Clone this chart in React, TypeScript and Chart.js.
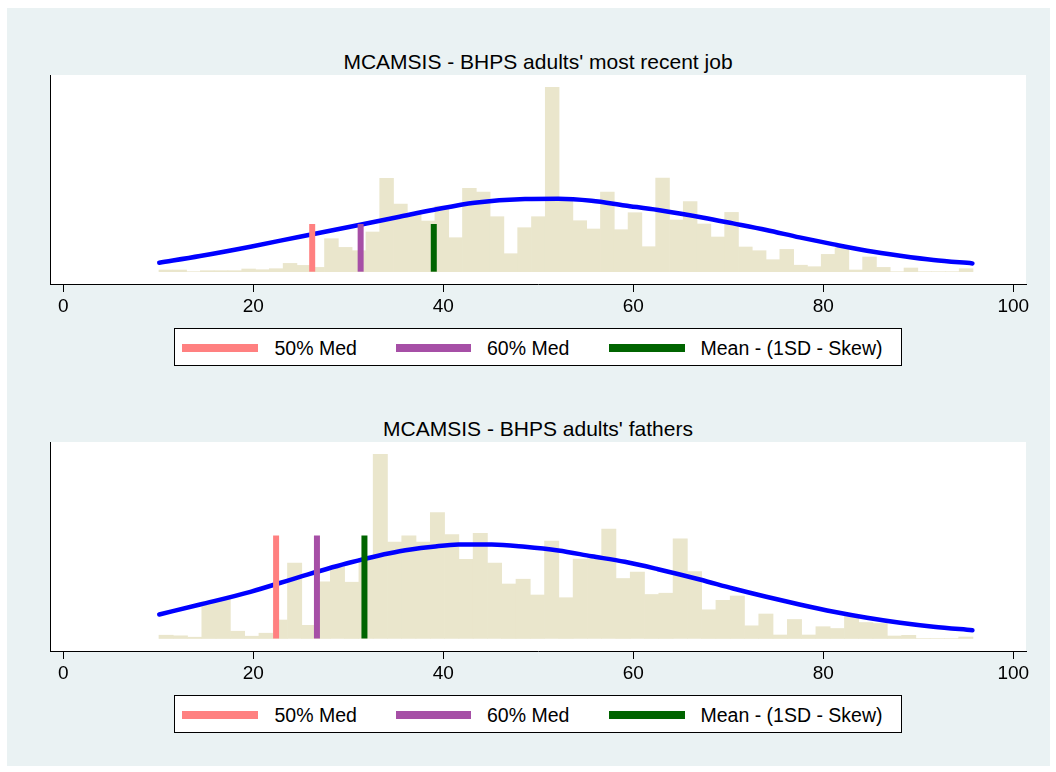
import React, { useEffect, useRef } from "react";
import { Chart, registerables } from "chart.js";

Chart.register(...registerables);

const FONT = "'Liberation Sans', Arial, Helvetica, sans-serif";
const BEIGE = "#EAE6CC";
const BG = "#EAF2F3";

// x axis
const xTicks = [0, 20, 40, 60, 80, 100];
const xMin = -1.4;
const xMax = 101.34;

// legend
const legendLabels = ["50% Med", "60% Med", "Mean - (1SD - Skew)"];
const markerColors = ["#FF8080", "#A64FA6", "#006400"];

// ---- Panel 1: adults' most recent job ----
const title1 = "MCAMSIS - BHPS adults' most recent job";
const hist1Start = 10.07;
const hist1Width = 1.4524;
const hist1Heights = [
  1.7, 1.7, 0, 1, 1, 1, 2.7, 2, 3, 8.3,
  6.3, 4.3, 33, 24.3, 21, 39.7, 93.3, 67.7, 58, 50.7,
  65.7, 34, 83.3, 79.5, 55, 18, 44, 55, 184.3, 72,
  51, 42.7, 79.7, 42, 59, 25, 93.7, 51.7, 70, 47.7,
  34.7, 59.3, 24.7, 21, 12, 22.3, 6.5, 5, 17.3, 24,
  1.7, 14.7, 4.3, 0, 3.7, 0, 0, 0, 3,
];
const curve1X = [10.1, 14.4, 19.7, 24.9, 30.2, 35.4, 38.9, 43.3, 48.6, 52.1, 55.6, 59.1, 62.6, 67.4, 70.5, 74.0, 77.5, 81.1, 84.6, 88.1, 91.6, 95.7];
const curve1Y = [9, 15.7, 25, 35, 45, 55, 61.7, 69, 72.7, 73, 71, 66.3, 61.7, 54, 48.3, 41.7, 34.3, 27.3, 21, 16, 11.7, 8.3];
const markers1X = [26.2, 31.3, 39.0];
const markers1H = 47.7;
const y1Min = -12.3;
const y1Max = 196.7;

// ---- Panel 2: adults' fathers ----
const title2 = "MCAMSIS - BHPS adults' fathers";
const hist2Start = 10.07;
const hist2Width = 1.5033;
const hist2Heights = [
  3.3, 2.7, 1.3, 37, 39.3, 7.3, 2.3, 5.3, 18.5, 75.3,
  13.2, 56.7, 72, 56.3, 80, 184.2, 96.5, 102.7, 96.5, 125.8,
  104, 79.2, 105.2, 75.3, 54.5, 59.3, 43.5, 97.3, 40.8, 79.5,
  80, 109.3, 60, 66.3, 44, 45.3, 99.7, 67, 28.7, 38.2,
  42.5, 12.7, 24.5, 3.5, 19, 3.5, 11.8, 10, 22, 16,
  15, 2.5, 3.2, 0, 0, 0, 1.5,
];
const curve2X = [10.1, 14.4, 19.7, 24.9, 30.2, 35.4, 38.9, 41.6, 45.1, 48.6, 52.1, 55.6, 59.1, 62.6, 67.0, 70.5, 74.0, 77.5, 81.1, 84.6, 88.1, 91.6, 95.7];
const curve2Y = [24, 34, 46.7, 61.7, 76, 87.3, 91.7, 94, 94, 91.7, 88, 82.3, 76.7, 69.3, 59, 50, 41.7, 34, 26.7, 20.7, 15.7, 11.7, 8.3];
const markers2X = [22.4, 26.7, 31.7];
const markers2H = 103;
const y2Min = -12.5;
const y2Max = 196.5;

type PanelProps = {
  offset: number;
  title: string;
  histStart: number;
  histWidth: number;
  hist: number[];
  curveX: number[];
  curveY: number[];
  markers: number[];
  markerH: number;
  yMin: number;
  yMax: number;
};

const plotBg = {
  id: "plotBg",
  beforeDraw(c: any) {
    const { ctx, chartArea: a } = c;
    ctx.save();
    ctx.fillStyle = "#ffffff";
    ctx.fillRect(a.left, a.top, a.right - a.left, a.bottom - a.top);
    ctx.restore();
  },
};

function Panel(p: PanelProps) {
  const ref = useRef<HTMLCanvasElement | null>(null);

  useEffect(() => {
    if (!ref.current) return;
    const datasets: any[] = [];
    p.markers.forEach((m, i) => {
      datasets.push({
        type: "line",
        label: legendLabels[i],
        data: [
          { x: m, y: 0 },
          { x: m, y: p.markerH },
        ],
        borderColor: markerColors[i],
        borderWidth: 6,
        borderCapStyle: "butt",
        pointRadius: 0,
        tension: 0,
        order: 0,
      });
    });
    datasets.push({
      type: "line",
      label: "Normal",
      data: p.curveX.map((x, i) => ({ x, y: p.curveY[i] })),
      borderColor: "#0000FF",
      borderWidth: 4.5,
      borderCapStyle: "round",
      borderJoinStyle: "round",
      pointRadius: 0,
      cubicInterpolationMode: "monotone",
      order: 1,
    });
    datasets.push({
      type: "bar",
      label: "Histogram",
      data: p.hist.map((h, k) => ({ x: p.histStart + (k + 0.5) * p.histWidth, y: h })),
      backgroundColor: BEIGE,
      borderWidth: 0,
      barPercentage: 1,
      categoryPercentage: 1,
      order: 2,
    });

    const chart = new Chart(ref.current, {
      type: "bar",
      data: { datasets },
      options: {
        animation: false,
        responsive: false,
        events: [],
        layout: { padding: { left: 50, right: 30, top: 75, bottom: 0 } },
        plugins: {
          legend: { display: false },
          title: { display: false },
          tooltip: { enabled: false },
        },
        scales: {
          x: {
            type: "linear",
            min: xMin,
            max: xMax,
            offset: false,
            grid: {
              display: true,
              offset: false,
              drawOnChartArea: false,
              drawTicks: true,
              tickLength: 8,
              color: "#000",
              lineWidth: 1,
            },
            border: { display: true, color: "#000", width: 1 },
            ticks: {
              font: { family: FONT, size: 19 },
              color: "#000",
              padding: 3,
              maxRotation: 0,
              autoSkip: false,
            },
            afterBuildTicks: (s: any) => {
              s.ticks = xTicks.map((v) => ({ value: v }));
            },
            afterFit: (s: any) => {
              s.height = 46;
            },
          },
          y: {
            type: "linear",
            min: p.yMin,
            max: p.yMax,
            grid: { display: false },
            ticks: { display: false },
            border: { display: true, color: "#000", width: 1 },
            afterFit: (s: any) => {
              s.width = 0;
            },
          },
        },
      } as any,
      plugins: [plotBg],
    });
    return () => chart.destroy();
  }, []);

  const o = p.offset;
  const swatches = [
    { left: 182, width: 76 },
    { left: 396, width: 75 },
    { left: 609, width: 76 },
  ];
  const textLefts = [274.5, 487, 700.5];

  return (
    <>
      <div
        style={{
          position: "absolute",
          left: 50,
          top: o + 51,
          width: 976,
          textAlign: "center",
          fontFamily: FONT,
          fontSize: 21,
          lineHeight: "21px",
          color: "#000",
          whiteSpace: "nowrap",
        }}
      >
        {p.title}
      </div>
      <canvas
        ref={ref}
        width={1056}
        height={330}
        style={{ position: "absolute", left: 0, top: o, width: 1056, height: 330 }}
      />
      <div
        style={{
          position: "absolute",
          left: 174,
          top: o + 328,
          width: 728,
          height: 38,
          boxSizing: "border-box",
          border: "1px solid #000",
          background: "#fff",
        }}
      />
      {swatches.map((s, i) => (
        <div
          key={"s" + i}
          style={{
            position: "absolute",
            left: s.left,
            top: o + 343.5,
            width: s.width,
            height: 8,
            background: markerColors[i],
          }}
        />
      ))}
      {legendLabels.map((t, i) => (
        <div
          key={"t" + i}
          style={{
            position: "absolute",
            left: textLefts[i],
            top: o + 338.5,
            fontFamily: FONT,
            fontSize: 19.5,
            lineHeight: "19.5px",
            color: "#000",
            whiteSpace: "nowrap",
          }}
        >
          {t}
        </div>
      ))}
    </>
  );
}

export default function App() {
  return (
    <div
      style={{
        position: "absolute",
        left: 0,
        top: 0,
        width: 1056,
        height: 772,
        background: "#fff",
        overflow: "hidden",
      }}
    >
      <div style={{ position: "absolute", left: 7, top: 8, width: 1043, height: 758, background: BG }} />
      <Panel
        offset={0}
        title={title1}
        histStart={hist1Start}
        histWidth={hist1Width}
        hist={hist1Heights}
        curveX={curve1X}
        curveY={curve1Y}
        markers={markers1X}
        markerH={markers1H}
        yMin={y1Min}
        yMax={y1Max}
      />
      <Panel
        offset={367}
        title={title2}
        histStart={hist2Start}
        histWidth={hist2Width}
        hist={hist2Heights}
        curveX={curve2X}
        curveY={curve2Y}
        markers={markers2X}
        markerH={markers2H}
        yMin={y2Min}
        yMax={y2Max}
      />
    </div>
  );
}
